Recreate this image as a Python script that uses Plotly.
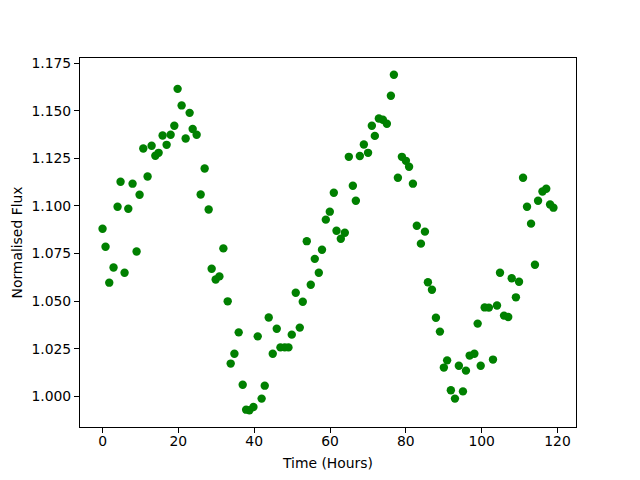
import plotly.graph_objects as go

time_hours = [0.0, 0.79, 1.77, 2.90, 3.96, 4.75, 5.81, 6.79, 7.92, 8.98,
              9.77, 10.75, 11.88, 12.94, 13.92, 14.79, 15.84, 16.90, 17.96, 18.93,
              19.80, 20.86, 21.92, 22.97, 23.77, 24.82, 25.88, 26.93, 27.99, 28.78,
              29.84, 30.82, 31.87, 33.01, 33.80, 34.78, 35.91, 36.97, 37.87, 38.74,
              39.80, 40.93, 41.96, 42.78, 43.83, 44.89, 45.95, 46.92, 48.06, 49.04,
              49.91, 50.96, 52.02, 52.81, 53.87, 54.92, 55.98, 57.04, 57.88, 58.89,
              59.94, 61.00, 61.71, 62.85, 63.90, 64.96, 66.02, 66.81, 67.86, 68.92,
              70.03, 71.03, 71.82, 72.88, 73.94, 74.99, 76.05, 76.84, 77.90, 78.95,
              80.01, 80.85, 81.86, 82.89, 83.97, 85.03, 85.82, 86.88, 87.93, 88.99,
              90.02, 90.89, 91.87, 92.95, 93.98, 95.06, 95.85, 96.83, 98.07, 98.94,
              99.74, 100.79, 101.90, 102.98, 104.04, 104.83, 105.89, 107.00, 107.92, 109.03,
              109.85, 110.91, 111.96, 113.02, 114.05, 114.87, 116.03, 117.03, 118.04, 118.93]

norm_flux = [1.0880, 1.0786, 1.0597, 1.0677, 1.0996, 1.1127, 1.0649, 1.0985, 1.1117, 1.0761,
             1.1059, 1.1302, 1.1155, 1.1316, 1.1264, 1.1279, 1.1370, 1.1321, 1.1374, 1.1421,
             1.1615, 1.1528, 1.1354, 1.1489, 1.1404, 1.1374, 1.1060, 1.1197, 1.0981, 1.0670,
             1.0614, 1.0630, 1.0777, 1.0499, 1.0172, 1.0224, 1.0336, 1.0061, 0.9930, 0.9927,
             0.9944, 1.0315, 0.9988, 1.0056, 1.0414, 1.0224, 1.0355, 1.0257, 1.0257, 1.0257,
             1.0324, 1.0544, 1.0361, 1.0497, 1.0815, 1.0586, 1.0722, 1.0649, 1.0770, 1.0928,
             1.0970, 1.1069, 1.0870, 1.0828, 1.0859, 1.1258, 1.1106, 1.1027, 1.1262, 1.1323,
             1.1279, 1.1421, 1.1368, 1.1459, 1.1453, 1.1432, 1.1579, 1.1689, 1.1148, 1.1258,
             1.1237, 1.1206, 1.1117, 1.0896, 1.0802, 1.0865, 1.0599, 1.0560, 1.0413, 1.0340,
             1.0151, 1.0189, 1.0032, 0.9988, 1.0161, 1.0026, 1.0135, 1.0214, 1.0224, 1.0382,
             1.0161, 1.0467, 1.0466, 1.0193, 1.0477, 1.0649, 1.0424, 1.0417, 1.0620, 1.0520,
             1.0602, 1.1148, 1.0996, 1.0907, 1.0691, 1.1027, 1.1076, 1.1090, 1.1008, 1.0991]

x_label = "Time (Hours)"
y_label = "Normalised Flux"

# matplotlib-like 5% data margins
xmin, xmax = min(time_hours), max(time_hours)
ymin, ymax = min(norm_flux), max(norm_flux)
xm = 0.05 * (xmax - xmin)
ym = 0.05 * (ymax - ymin)

font = dict(family="DejaVu Sans", size=13.9, color="black")

fig = go.Figure(go.Scatter(
    x=time_hours, y=norm_flux, mode="markers",
    marker=dict(color="green", size=8.4, line=dict(width=0)),
))

axis_common = dict(
    showgrid=False, zeroline=False, showline=True, linecolor="black", linewidth=1,
    mirror=True, ticks="outside", ticklen=5, tickwidth=1, tickcolor="black",
    tickfont=font, automargin=False,
)

fig.update_layout(
    width=640, height=480,
    margin=dict(l=80, r=64, t=58, b=53, pad=0),
    paper_bgcolor="white", plot_bgcolor="white",
    font=font,
    showlegend=False,
    xaxis=dict(range=[xmin - xm, xmax + xm], dtick=20, tick0=0, ticklabelstandoff=-4,
               title=dict(text=x_label, font=font, standoff=10), **axis_common),
    yaxis=dict(range=[ymin - ym, ymax + ym], dtick=0.025, tick0=1.0, tickformat=".3f",
               title=dict(text=y_label, font=font, standoff=5), **axis_common),
)

fig.write_html("out.html", post_script="document.body.style.margin='0';",
               config={"displayModeBar": False})
